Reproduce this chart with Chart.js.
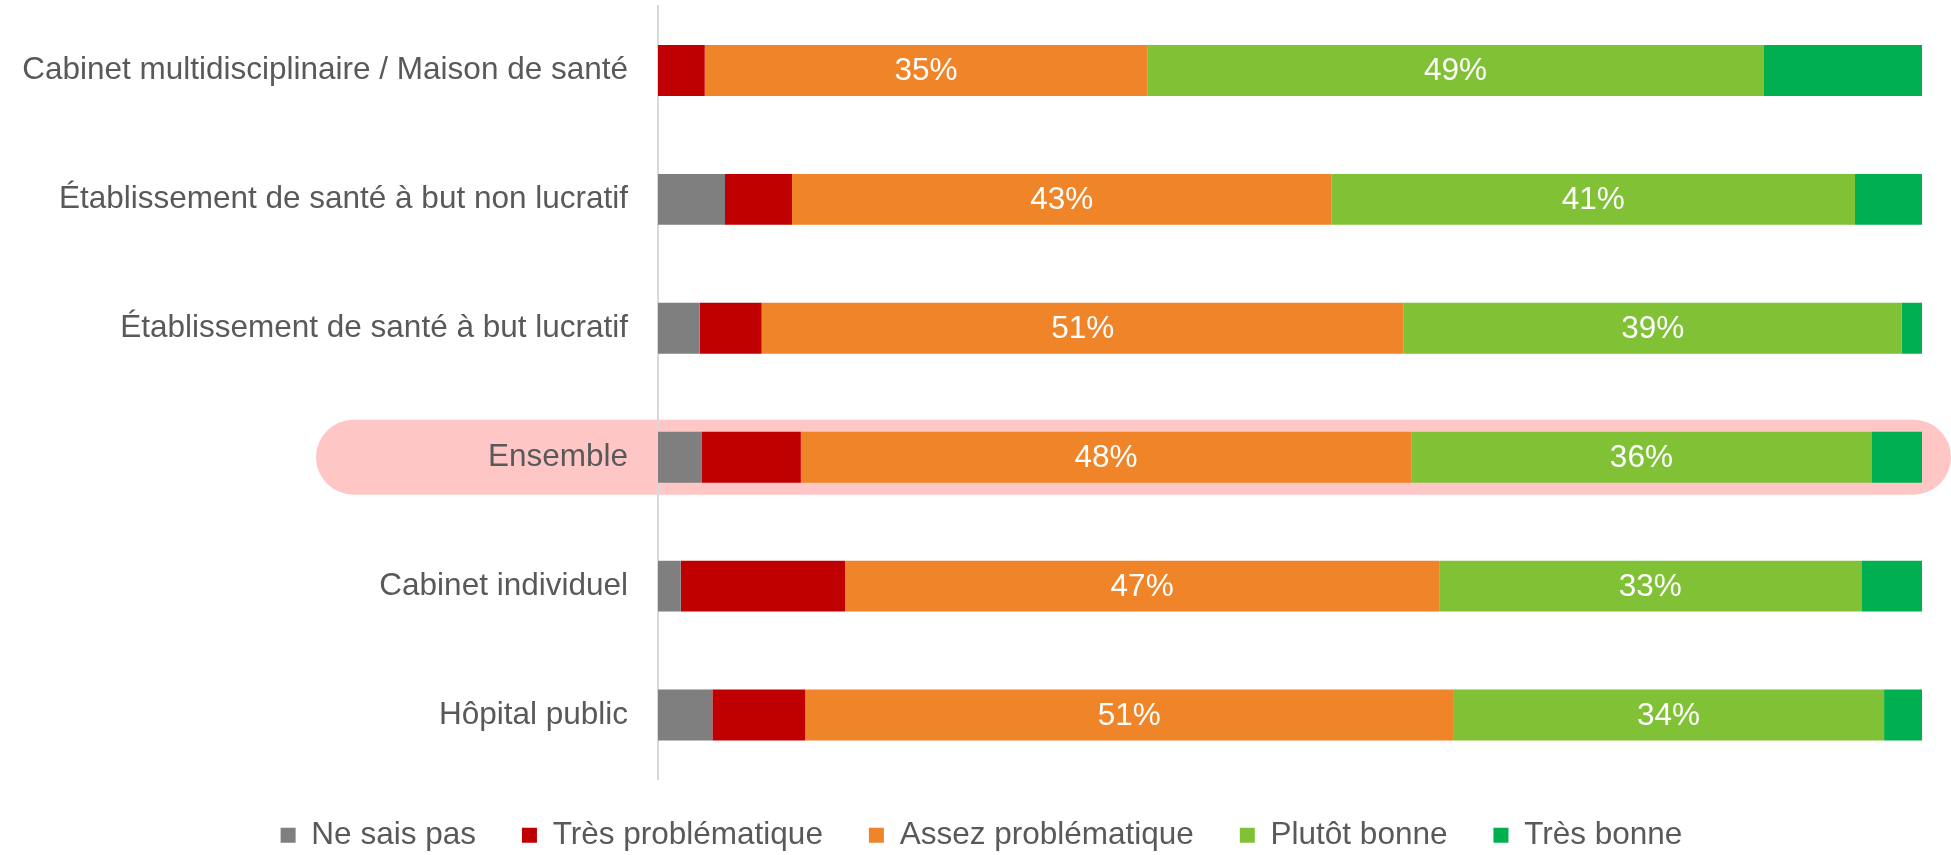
<!DOCTYPE html>
<html lang="fr">
<head>
<meta charset="utf-8">
<title>Perception par type d'établissement</title>
<script src="https://cdn.jsdelivr.net/npm/chart.js@4"></script>
<style>
    html, body { margin: 0; padding: 0; background: #ffffff; }
    canvas { display: block; }
</style>
</head>
<body>
<canvas id="chart" width="1951" height="855"></canvas>
<script>
// --- Données (en %) ---
const categories = [
    'Cabinet multidisciplinaire / Maison de santé',
    'Établissement de santé à but non lucratif',
    'Établissement de santé à but lucratif',
    'Ensemble',
    'Cabinet individuel',
    'Hôpital public'
];
const seriesNames = ['Ne sais pas', 'Très problématique', 'Assez problématique', 'Plutôt bonne', 'Très bonne'];
const neSaisPas          = [0, 5.3, 3.3, 3.45, 1.8, 4.3];
const tresProblematique  = [3.7, 5.3, 4.9, 7.85, 13.0, 7.35];
const assezProblematique = [35.0, 42.7, 50.8, 48.3, 47.0, 51.25];
const plutotBonne        = [48.8, 41.4, 39.4, 36.4, 33.4, 34.1];
const tresBonne          = [12.5, 5.3, 1.6, 4.0, 4.8, 3.0];
const seriesColors = ['#7f7f7f', '#c00000', '#ef8429', '#80c136', '#00b050'];
const labeledSeries = ['Assez problématique', 'Plutôt bonne']; // seules ces séries ont une étiquette
const highlightCategory = 'Ensemble';

const FONT = "'Liberation Sans', Arial, sans-serif";
const TEXT_COLOR = '#595959';

// Bandeau rose derrière la ligne "Ensemble" (dessiné avant les axes pour garder le libellé visible)
const highlightPlugin = {
    id: 'highlight',
    beforeDraw(chart) {
        const ctx = chart.ctx;
        const y = chart.scales.y.getPixelForValue(categories.indexOf(highlightCategory));
        const h = 75, r = h / 2;
        const left = chart.chartArea.left - 342;
        const right = chart.width;
        ctx.save();
        ctx.fillStyle = '#ffc6c6';
        ctx.beginPath();
        ctx.roundRect(left, y - r, right - left, h, r);
        ctx.fill();
        ctx.restore();
    }
};

// Pourcentages en blanc au centre des segments
const valueLabels = {
    id: 'valueLabels',
    afterDatasetsDraw(chart) {
        const ctx = chart.ctx;
        ctx.save();
        ctx.font = '31.5px ' + FONT;
        ctx.fillStyle = '#ffffff';
        ctx.textAlign = 'center';
        ctx.textBaseline = 'middle';
        chart.data.datasets.forEach((ds, i) => {
            if (!labeledSeries.includes(ds.label)) return;
            chart.getDatasetMeta(i).data.forEach((bar, j) => {
                ctx.fillText(Math.round(ds.data[j]) + '%', (bar.x + bar.base) / 2, bar.y + 1);
            });
        });
        ctx.restore();
    }
};

// Recentre la légende comme sur l'original
const legendPlacement = {
    id: 'legendPlacement',
    afterLayout(chart) {
        const lg = chart.legend;
        lg.top -= 6;
        lg.left = 12;
        lg.right = chart.width;
    }
};

const datasetValues = [neSaisPas, tresProblematique, assezProblematique, plutotBonne, tresBonne];

new Chart(document.getElementById('chart'), {
    type: 'bar',
    data: {
        labels: categories,
        datasets: seriesNames.map((name, i) => ({
            label: name,
            data: datasetValues[i],
            backgroundColor: seriesColors[i],
            borderWidth: 0,
            categoryPercentage: 1,
            barPercentage: 0.395
        }))
    },
    options: {
        indexAxis: 'y',
        responsive: false,
        animation: false,
        layout: { padding: { top: 6, right: 29, left: 0, bottom: -12 } },
        scales: {
            x: { stacked: true, min: 0, max: 100, display: false },
            y: {
                stacked: true,
                grid: { display: false, drawTicks: false },
                border: { display: true, color: '#d9d9d9', width: 2 },
                ticks: { color: TEXT_COLOR, padding: 30, font: { family: FONT, size: 31.5 } },
                afterFit(scale) {
                    scale.width = 658;
                    scale.paddingTop = 0;
                    scale.paddingBottom = 0;
                }
            }
        },
        plugins: {
            tooltip: { enabled: false },
            legend: {
                position: 'bottom',
                labels: {
                    color: TEXT_COLOR,
                    boxWidth: 15,
                    boxHeight: 15,
                    padding: 46,
                    font: { family: FONT, size: 31.5 }
                }
            }
        }
    },
    plugins: [highlightPlugin, valueLabels, legendPlacement]
});
</script>
</body>
</html>
